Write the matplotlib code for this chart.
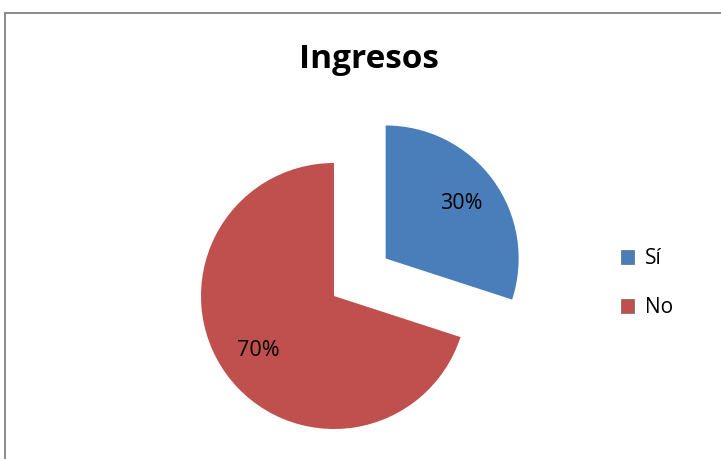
import matplotlib
matplotlib.use("Agg")
import matplotlib.pyplot as plt
from matplotlib.patches import Rectangle, Patch

categories = ["Sí", "No"]
values = [30, 70]
colors = ["#4A7EBB", "#C0504D"]
title = "Ingresos"

W, H = 721, 459
R = 133
fig = plt.figure(figsize=(W / 100, H / 100), dpi=100)
ax = fig.add_axes([0, 0, 1, 1])

# chart border (left and top visible)
ax.add_patch(Rectangle((4.5, -10), W + 20, H - 12.5 + 10, fill=False,
                       edgecolor="#8A8A8A", linewidth=1.4))

wedges, texts, autotexts = ax.pie(
    values, colors=colors, startangle=90, counterclock=False,
    explode=[0.48 * R, 0], center=(334, H - 296), radius=R,
    autopct="%d%%", pctdistance=0.70,
    wedgeprops=dict(edgecolor="none"),
    textprops=dict(fontsize=15.5, family="Open Sans", color="black"),
)
ax.set_xlim(0, W)
ax.set_ylim(0, H)
ax.set_aspect("equal")
ax.axis("off")

ax.text(369, H - 60, title, ha="center", va="center", fontsize=24,
        fontweight="bold", family="Open Sans")

handles = [Patch(facecolor=c, edgecolor="#555555", linewidth=0.4) for c in colors]
leg = ax.legend(handles, categories, loc="center left",
                bbox_to_anchor=(602 / W, 1 - 283 / H), frameon=False,
                prop=dict(family="Open Sans", size=15),
                handlelength=0.65, handleheight=0.65, handletextpad=0.5,
                labelspacing=1.35)

fig.savefig("out.png", dpi=100)
